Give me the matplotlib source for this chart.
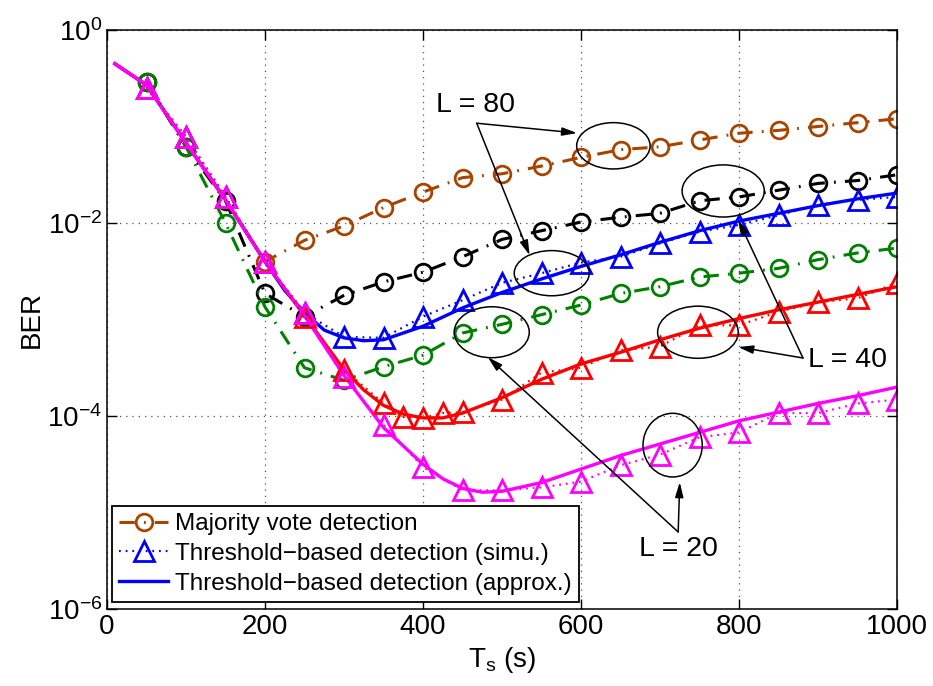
import numpy as np
import matplotlib
matplotlib.use("Agg")
import matplotlib.pyplot as plt
from matplotlib.patches import Ellipse

plt.rcParams['font.family'] = ['Liberation Sans', 'DejaVu Sans']
plt.rcParams['mathtext.fontset'] = 'custom'
plt.rcParams['mathtext.rm'] = 'Liberation Sans'
plt.rcParams['mathtext.it'] = 'Liberation Sans:italic'
plt.rcParams['mathtext.default'] = 'regular'

# ---------------- data (log10 BER) ----------------
ts = [50, 100, 150, 200, 250, 300, 350, 400, 450, 500,
      550, 600, 650, 700, 750, 800, 850, 900, 950, 1000]

mv_L80 = [-0.54, -1.21, -1.77, -2.40, -2.18, -2.03, -1.84, -1.68, -1.53, -1.49,
          -1.41, -1.32, -1.24, -1.21, -1.14, -1.07, -1.04, -1.00, -0.96, -0.92]
mv_L40 = [-0.54, -1.21, -1.77, -2.73, -2.97, -2.75, -2.61, -2.51, -2.35, -2.17,
          -2.08, -1.99, -1.94, -1.90, -1.77, -1.73, -1.66, -1.59, -1.56, -1.50]
mv_L20 = [-0.54, -1.21, -2.00, -2.87, -3.50, -3.63, -3.49, -3.37, -3.14, -3.05,
          -2.95, -2.85, -2.73, -2.66, -2.56, -2.52, -2.47, -2.38, -2.31, -2.26]

sim_L80 = [-0.60, -1.11, -1.73, -2.40, -2.93, -3.18, -3.19, -2.97, -2.80, -2.62,
           -2.52, -2.41, -2.35, -2.21, -2.09, -2.02, -1.92, -1.81, -1.76, -1.73]
ts_L40 = [50, 100, 150, 200, 250, 300, 350, 375, 400, 425, 450, 500,
          550, 600, 650, 700, 750, 800, 850, 900, 950, 1000]
sim_L40 = [-0.60, -1.11, -1.73, -2.40, -2.97, -3.52, -3.87, -4.01, -4.02, -3.97, -3.96, -3.83,
           -3.55, -3.50, -3.32, -3.28, -3.06, -3.06, -2.92, -2.82, -2.78, -2.62]
sim_L20 = [-0.60, -1.11, -1.73, -2.40, -2.93, -3.60, -4.09, -4.53, -4.77, -4.77,
           -4.74, -4.68, -4.51, -4.40, -4.22, -4.17, -3.97, -3.97, -3.87, -3.83]

ts_apx_L80 = [10, 50, 100, 150, 200, 225, 250, 275, 300, 325, 350, 400, 450, 500,
              550, 600, 650, 700, 750, 800, 850, 900, 950, 1000]
apx_L80 = [-0.35, -0.57, -1.17, -1.76, -2.40, -2.70, -2.93, -3.11, -3.19, -3.22, -3.21, -3.07,
           -2.88, -2.72, -2.58, -2.45, -2.33, -2.20, -2.08, -1.98, -1.90, -1.82, -1.75, -1.69]
ts_apx_L40 = [10, 50, 100, 150, 200, 250, 300, 325, 350, 375, 400, 425, 450, 500,
              550, 600, 650, 700, 750, 800, 850, 900, 950, 1000]
apx_L40 = [-0.35, -0.57, -1.17, -1.76, -2.40, -2.96, -3.52, -3.73, -3.89, -3.98, -4.02, -4.02,
           -3.97, -3.81, -3.62, -3.46, -3.34, -3.21, -3.09, -2.99, -2.90, -2.82, -2.74, -2.66]
ts_apx_L20 = [10, 50, 100, 150, 200, 250, 300, 350, 400, 425, 450, 475, 500,
              550, 600, 650, 700, 750, 800, 850, 900, 950, 1000]
apx_L20 = [-0.35, -0.57, -1.17, -1.76, -2.40, -2.96, -3.58, -4.12, -4.50, -4.65, -4.75, -4.79, -4.78,
           -4.69, -4.55, -4.41, -4.29, -4.17, -4.05, -3.96, -3.87, -3.79, -3.70]

x_ticks = [0, 200, 400, 600, 800, 1000]
y_ticks = [1e-6, 1e-4, 1e-2, 1e0]

legend_labels = ['Majority vote detection',
                 'Threshold\u2212based detection (simu.)',
                 'Threshold\u2212based detection (approx.)']

# ---------------- style ----------------
brown = '#A84400'
green = '#008000'
lw = 2.2
mec_w = 2.0
ms_o = 12
ms_t = 14
dashdot = (0, (5, 3, 0.6, 3))
dotted = (0, (0.8, 2.2))

fig = plt.figure(figsize=(9.33, 6.86), dpi=100)
ax = fig.add_axes([107/933, 77/686, 790/933, 579/686])


def p(v):
    return 10 ** np.asarray(v, dtype=float)


h_mv, = ax.plot(ts, p(mv_L80), color=brown, ls=dashdot, lw=lw, marker='o', ms=ms_o,
                mfc='none', mec=brown, mew=mec_w)
ax.plot(ts, p(mv_L40), color='k', ls=dashdot, lw=lw, marker='o', ms=ms_o,
        mfc='none', mec='k', mew=mec_w)
ax.plot(ts, p(mv_L20), color=green, ls=dashdot, lw=lw, marker='o', ms=ms_o,
        mfc='none', mec=green, mew=mec_w)

h_apx, = ax.plot(ts_apx_L80, p(apx_L80), color='#0000FF', ls='-', lw=2.4)
ax.plot(ts_apx_L40, p(apx_L40), color='#FF0000', ls='-', lw=2.4)
ax.plot(ts_apx_L20, p(apx_L20), color='#FF00FF', ls='-', lw=2.4)

h_sim, = ax.plot(ts, p(sim_L80), color='#0000FF', ls=dotted, lw=1.6, marker='^', ms=ms_t,
                 mfc='none', mec='#0000FF', mew=mec_w)
ax.plot(ts_L40, p(sim_L40), color='#FF0000', ls=dotted, lw=1.6, marker='^', ms=ms_t,
        mfc='none', mec='#FF0000', mew=mec_w)
ax.plot(ts, p(sim_L20), color='#FF00FF', ls=dotted, lw=1.6, marker='^', ms=ms_t,
        mfc='none', mec='#FF00FF', mew=mec_w)

ax.set_yscale('log')
ax.set_xlim(0, 1000)
ax.set_ylim(1e-6, 1e0)
ax.set_xticks(x_ticks)
ax.set_yticks(y_ticks)
ax.yaxis.set_minor_locator(matplotlib.ticker.NullLocator())
ax.tick_params(which='both', direction='in', top=True, right=True, labelsize=20,
               length=7, width=1)
for s in ax.spines.values():
    s.set_linewidth(1.1)
ax.grid(True, which='major', color='#555555', ls=(0, (1, 4)), lw=0.9)

ax.set_xlabel('$T_s$ (s)', fontsize=20, labelpad=4)
ax.set_ylabel('BER', fontsize=20, labelpad=2)

leg = ax.legend([h_mv, h_sim, h_apx], legend_labels, loc='lower left',
                bbox_to_anchor=(0.0063, 0.012), borderaxespad=0, fontsize=17.5,
                fancybox=False, framealpha=1, edgecolor='k', handlelength=2.0,
                handletextpad=0.3, labelspacing=0.32, borderpad=0.3)
leg.get_frame().set_linewidth(1.3)

# ---------------- annotations (axes fractions) ----------------
arrow_kw = dict(arrowstyle='-|>,head_length=0.9,head_width=0.25', color='k', lw=1.1,
                shrinkA=0, shrinkB=0)


def ell(cx, cy, w, h):
    ax.add_patch(Ellipse((cx, cy), w, h, transform=ax.transAxes, fill=False,
                         ec='k', lw=1.1, zorder=5))


def arr(tail, head):
    ax.annotate('', xy=head, xytext=tail, xycoords='axes fraction',
                textcoords='axes fraction', arrowprops=arrow_kw, zorder=6)


# L = 80
ax.text(0.466, 0.871, 'L = 80', transform=ax.transAxes, fontsize=20.5, ha='center', va='center')
ell(0.641, 0.800, 0.093, 0.080)
ell(0.563, 0.580, 0.095, 0.078)
arr((0.468, 0.839), (0.595, 0.822))
arr((0.468, 0.839), (0.535, 0.611))

# L = 40
ax.text(0.937, 0.430, 'L = 40', transform=ax.transAxes, fontsize=20.5, ha='center', va='center')
ell(0.780, 0.722, 0.104, 0.090)
ell(0.748, 0.478, 0.102, 0.090)
arr((0.881, 0.4335), (0.799, 0.4525))
arr((0.881, 0.4335), (0.799, 0.672))

# L = 20
ax.text(0.723, 0.104, 'L = 20', transform=ax.transAxes, fontsize=20.5, ha='center', va='center')
ell(0.716, 0.283, 0.075, 0.110)
ell(0.487, 0.478, 0.095, 0.088)
arr((0.723, 0.133), (0.725, 0.219))
arr((0.723, 0.133), (0.482, 0.435))

fig.savefig('out.png', dpi=100, facecolor='white')
